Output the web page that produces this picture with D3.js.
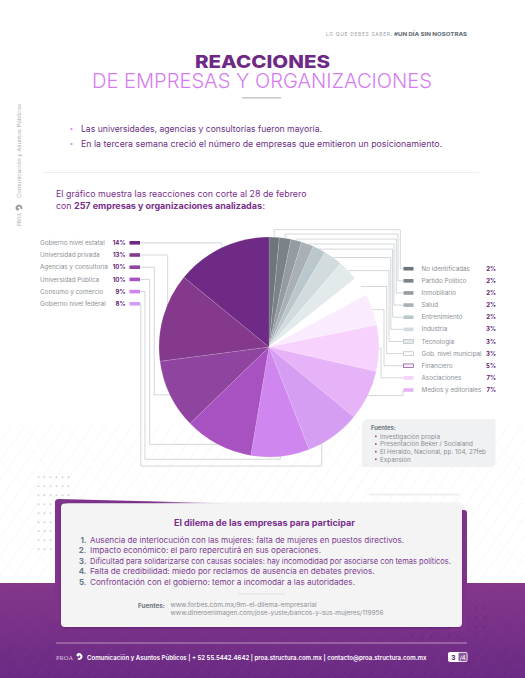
<!DOCTYPE html>
<html lang="es">
<head>
<meta charset="utf-8">
<title>Reacciones de empresas y organizaciones</title>
<script src="https://cdn.jsdelivr.net/npm/d3@7"></script>
<style>
  html, body { margin: 0; padding: 0; background: #fff; }
  svg { display: block; }
  text { font-family: "Inter", "Open Sans", sans-serif; }
</style>
</head>
<body>
<div id="page"></div>
<script>
'use strict';

// data
var leftCategories = ["Gobierno nivel estatal", "Universidad privada", "Agencias y consultoría", "Universidad Pública", "Consumo y comercio", "Gobierno nivel federal"];
var leftLabels = ["14%", "13%", "10%", "10%", "9%", "8%"];
var leftShares = [14.1, 13, 10.2, 10.1, 8.6, 8.1];

var rightCategories = ["No identificadas", "Partido Político", "Inmobiliario", "Salud", "Entrenimiento", "Industria", "Tecnología", "Gob. nivel municipal", "Financiero", "Asociaciones", "Medios y editoriales"];
var rightLabels = ["2%", "2%", "2%", "2%", "2%", "3%", "3%", "3%", "5%", "7%", "7%"];
var rightShares = [1.5, 1.7, 1.6, 1.8, 1.9, 2.8, 3, 2.9, 4.6, 6.8, 7.4];

var bullets = ["Las universidades, agencias y consultorías fueron mayoría.", "En la tercera semana creció el número de empresas que emitieron un posicionamiento."];
var dilemas = [
  "Ausencia de interlocución con las mujeres: falta de mujeres en puestos directivos.",
  "Impacto económico: el paro repercutirá en sus operaciones.",
  "Dificultad para solidarizarse con causas sociales: hay incomodidad por asociarse con temas políticos.",
  "Falta de credibilidad: miedo por reclamos de ausencia en debates previos.",
  "Confrontación con el gobierno: temor a incomodar a las autoridades."
];
var fuentes = ["Investigación propia", "Presentación Beker / Socialand", "El Heraldo, Nacional, pp. 104, 27feb", "Expansión"];
var links = ["www.forbes.com.mx/9m-el-dilema-empresarial", "www.dineroenimagen.com/jose-yuste/bancos-y-sus-mujeres/119956"];

// colours
var leftColors = ["#6e2a84", "#84398d", "#8f44a0", "#a851c0", "#cf86ee", "#d59ef3"];
var rightColors = ["#6e767c", "#7b8389", "#949ba1", "#a9b0b6", "#bac7cd", "#d2dcdf", "#e3eaec", "#ffffff", "#faebff", "#f6d2fc", "#e6b2f8"];
var rightSwatchStroke = {6: "#a9b0b6", 7: "#a9b0b6", 8: "#6e2a84"};

var purple = "#7a2f8c", ink = "#7d3b90", grey = "#8a8f96", dark = "#6b3384";

var width = 525, height = 678;
var svg = d3.select("#page").append("svg").attr("width", width).attr("height", height);
var defs = svg.append("defs");

// helper: text fitted to the width it has in the page
function label(parent, str, x, y, size, fill, opts) {
  opts = opts || {};
  var t = parent.append("text").attr("x", x).attr("y", y)
    .attr("font-size", size).attr("fill", fill).text(str);
  if (opts.weight) t.attr("font-weight", opts.weight);
  if (opts.anchor) t.attr("text-anchor", opts.anchor);
  if (opts.len) t.attr("textLength", opts.len).attr("lengthAdjust", "spacingAndGlyphs");
  return t;
}

// background stripes and band
var hatch = defs.append("pattern").attr("id", "hatch").attr("width", 11).attr("height", 11)
  .attr("patternUnits", "userSpaceOnUse").attr("patternTransform", "rotate(35)");
hatch.append("line").attr("x1", 0).attr("x2", 0).attr("y1", 0).attr("y2", 11).attr("stroke", "#f1f1f4").attr("stroke-width", 1);
var hatchDark = defs.append("pattern").attr("id", "hatchDark").attr("width", 11).attr("height", 11)
  .attr("patternUnits", "userSpaceOnUse").attr("patternTransform", "rotate(35)");
hatchDark.append("line").attr("x1", 0).attr("x2", 0).attr("y1", 0).attr("y2", 11).attr("stroke", "#8c4496").attr("stroke-width", 1);

var bandGrad = defs.append("linearGradient").attr("id", "band").attr("x1", 0).attr("x2", 0).attr("y1", 0).attr("y2", 1);
bandGrad.append("stop").attr("offset", 0).attr("stop-color", "#84378b");
bandGrad.append("stop").attr("offset", 1).attr("stop-color", "#6a2a84");
var wedgeGrad = defs.append("linearGradient").attr("id", "wedge").attr("x1", 0).attr("x2", 1).attr("y1", 0).attr("y2", 0);
wedgeGrad.append("stop").attr("offset", 0).attr("stop-color", "#7f338b");
wedgeGrad.append("stop").attr("offset", 0.55).attr("stop-color", "#7f338b");
wedgeGrad.append("stop").attr("offset", 1).attr("stop-color", "#7f338b").attr("stop-opacity", 0);
var shadow = defs.append("filter").attr("id", "shadow").attr("x", "-5%").attr("y", "-5%").attr("width", "110%").attr("height", "115%");
shadow.append("feDropShadow").attr("dx", 0).attr("dy", 1).attr("stdDeviation", 1.5).attr("flood-color", "#3c1050").attr("flood-opacity", 0.3);

svg.append("rect").attr("x", 0).attr("y", 425).attr("width", width).attr("height", 158).attr("fill", "url(#hatch)");
svg.append("rect").attr("x", 0).attr("y", 583).attr("width", width).attr("height", 95).attr("fill", "url(#band)");
svg.append("rect").attr("x", 0).attr("y", 583).attr("width", width).attr("height", 95).attr("fill", "url(#hatchDark)").attr("opacity", 0.35);

// dot grids
var dotsLeft = svg.append("g").attr("fill", "#d2d4db");
d3.range(9).forEach(function(r) {
  d3.range(6).forEach(function(c) {
    dotsLeft.append("circle").attr("cx", 38.5 + c * 6).attr("cy", 477.3 + r * 9).attr("r", 1);
  });
});
var dotsRight = svg.append("g").attr("fill", "#6b2580");
d3.range(4).forEach(function(r) {
  d3.range(9).forEach(function(c) {
    dotsRight.append("circle").attr("cx", 413 + c * 9).attr("cy", 608 + r * 9.6).attr("r", 0.9);
  });
});

// header
var lead = label(svg, "LO QUE DEBES SABER. ", 326, 35.5, 4.9, "#9a9fa6");
lead.attr("textLength", 66).attr("lengthAdjust", "spacing");
label(svg, "#UN DÍA SIN NOSOTRAS", 394, 35.5, 4.9, "#6f7680", {weight: 800, len: 73});
label(svg, "REACCIONES", 195, 68, 17.8, "#6e2a84", {weight: 800, len: 135});
label(svg, "DE EMPRESAS Y ORGANIZACIONES", 92, 87.5, 20, "#d57df0", {weight: 300, len: 340});
svg.append("rect").attr("x", 242).attr("y", 97).attr("width", 39).attr("height", 1.6).attr("fill", "#c5cace");

var bulletY = d3.scalePoint().domain(d3.range(bullets.length)).range([132, 147]);
var bulletLen = [241, 361];
bullets.forEach(function(b, i) {
  svg.append("circle").attr("cx", 71.5).attr("cy", bulletY(i) - 3).attr("r", 1.1).attr("fill", "#d57df0");
  label(svg, b, 81, bulletY(i), 8.4, dark, {len: bulletLen[i]});
});
svg.append("line").attr("x1", 43).attr("x2", 479).attr("y1", 172.5).attr("y2", 172.5).attr("stroke", "#eeeeef");

label(svg, "El gráfico muestra las reacciones con corte al 28 de febrero", 56, 197, 8.8, purple, {len: 250.5});
label(svg, "con ", 56, 209, 8.8, purple);
label(svg, "257 empresas y organizaciones analizadas", 74, 209, 8.8, purple, {weight: 700, len: 188});
label(svg, ":", 262.5, 209, 8.8, purple);

// small globe mark used in the credits
function globe(parent, x, y, color) {
  var g = parent.append("g").attr("transform", "translate(" + x + "," + y + ")");
  g.append("path").attr("fill", color)
    .attr("d", d3.arc().innerRadius(1.4).outerRadius(3.4).startAngle(-0.6).endAngle(3.6)());
  g.append("circle").attr("cx", -1).attr("cy", -1.4).attr("r", 1.5).attr("fill", color);
}

// side credit
var side = svg.append("g").attr("transform", "translate(21,226) rotate(-90)");
label(side, "PROA", 0, 0, 5.4, "#a6abb0", {len: 13}).style("font-family", "Liberation Serif");
globe(side, 18, -2, "#9aa0a6");
label(side, "Comunicación y Asuntos Públicos", 28, 0, 5.2, "#a6abb0", {len: 94});

// pie
var cx = 269, cy = 347, radius = 110;
var pieOrder = rightCategories.map(function(c, i) {
  return {name: c, share: rightShares[i], color: rightColors[i]};
}).concat(leftCategories.map(function(c, i) {
  return {name: c, share: leftShares[i], color: leftColors[i]};
}).reverse());

var pie = d3.pie().sort(null).value(function(d) { return d.share; });
var arc = d3.arc().innerRadius(0).outerRadius(radius);
var slices = pie(pieOrder);
var sliceOf = {};
slices.forEach(function(s) {
  var a = (s.startAngle + s.endAngle) / 2;
  s.ax = cx + radius * Math.sin(a);
  s.ay = cy - radius * Math.cos(a);
  sliceOf[s.data.name] = s;
});

// legend rows
var leftRow = d3.scalePoint().domain(leftCategories).range([242.8, 303.8]);
var rightRow = d3.scalePoint().domain(rightCategories).range([268.7, 390]);

// where each leader line turns: elbow x, and y of the rail when it runs around the pie
var leftElbows = [null, 167.7, 154.3, 149.7, 145, 140.8];
var leftRails = [null, null, null, null, 459.3, 466];
var leftDrops = [null, null, null, null, null, 321.7];
var rightElbows = [400.3, 398, 396.3, 394, 392.6, 390.8, 389, 386.7, 384, 381, 403];
var rightRails = [229.7, 234, 239, null, null, null, null, null, null, null, null];

function leaderPath(startX, rowY, elbow, rail, drop, s) {
  var ex = elbow === null ? s.ax : elbow;
  var dx = drop === null ? s.ax : drop;
  var pts = [[startX, rowY], [ex, rowY]];
  if (rail === null) {
    pts.push([ex, s.ay], [s.ax, s.ay]);
  } else {
    pts.push([ex, rail], [dx, rail], [dx, s.ay]);
  }
  return d3.line()(pts);
}

var leaders = svg.append("g").attr("fill", "none").attr("stroke", "#c8cdd0").attr("stroke-width", 0.8);
leaders.selectAll("path.left").data(leftCategories).join("path").attr("class", "left")
  .attr("d", function(c, i) { return leaderPath(140, leftRow(c), leftElbows[i], leftRails[i], leftDrops[i], sliceOf[c]); });
leaders.selectAll("path.right").data(rightCategories).join("path").attr("class", "right")
  .attr("d", function(c, i) { return leaderPath(403, rightRow(c), rightElbows[i], rightRails[i], null, sliceOf[c]); });

svg.append("g").attr("transform", "translate(" + cx + "," + cy + ")")
  .selectAll("path").data(slices).join("path")
  .attr("d", arc)
  .attr("fill", function(d) { return d.data.color; })
  .attr("stroke", "#ffffff").attr("stroke-opacity", 0.3).attr("stroke-width", 0.4);

// left legend
var leftLegend = svg.append("g").selectAll("g").data(leftCategories).join("g");
leftLegend.append("text").attr("x", 40).attr("y", function(c) { return leftRow(c) + 2.1; })
  .attr("font-size", 6.3).attr("fill", grey).text(function(c) { return c; });
leftLegend.append("text").attr("x", 125.5).attr("y", function(c) { return leftRow(c) + 2.1; })
  .attr("text-anchor", "end").attr("font-size", 6).attr("font-weight", 700).attr("fill", "#5e2278")
  .text(function(c, i) { return leftLabels[i]; });
leftLegend.append("rect").attr("x", 129.5).attr("width", 10.5).attr("height", 3.6)
  .attr("y", function(c) { return leftRow(c) - 1.8; })
  .attr("fill", function(c, i) { return leftColors[i]; });

// right legend
var rightLegend = svg.append("g").selectAll("g").data(rightCategories).join("g");
rightLegend.append("text").attr("x", 421.5).attr("y", function(c) { return rightRow(c) + 2.1; })
  .attr("font-size", 6.3).attr("fill", grey).text(function(c) { return c; });
rightLegend.append("text").attr("x", 496).attr("y", function(c) { return rightRow(c) + 2.1; })
  .attr("text-anchor", "end").attr("font-size", 6).attr("font-weight", 700).attr("fill", "#5e2278")
  .text(function(c, i) { return rightLabels[i]; });
rightLegend.append("rect").attr("x", 403.5).attr("width", 10).attr("height", 3.6)
  .attr("y", function(c) { return rightRow(c) - 1.8; })
  .attr("fill", function(c, i) { return rightColors[i]; })
  .attr("stroke", function(c, i) { return rightSwatchStroke[i] || "none"; })
  .attr("stroke-width", 0.6);

// sources box, two rounded corners
var box = {x: 362, y: 419, w: 133.5, h: 48, r: 6};
svg.append("path").attr("fill", "#f0f1f2").attr("d",
  "M" + (box.x + box.r) + "," + box.y + "H" + (box.x + box.w) + "V" + (box.y + box.h - box.r) +
  "Q" + (box.x + box.w) + "," + (box.y + box.h) + " " + (box.x + box.w - box.r) + "," + (box.y + box.h) +
  "H" + box.x + "V" + (box.y + box.r) + "Q" + box.x + "," + box.y + " " + (box.x + box.r) + "," + box.y + "Z");
label(svg, "Fuentes:", 371, 430, 5.8, "#6f7680", {weight: 700});
var fuenteY = d3.scalePoint().domain(fuentes).range([438.5, 461.5]);
fuentes.forEach(function(f) {
  svg.append("rect").attr("x", 375).attr("y", fuenteY(f) - 3).attr("width", 1.6).attr("height", 1.6).attr("fill", "#8f44a0");
  label(svg, f, 380, fuenteY(f), 6.3, grey);
});
svg.append("rect").attr("x", 369).attr("y", 493.5).attr("width", 90).attr("height", 2).attr("fill", "#eeeff0");

// dilema card
svg.append("path").attr("fill", "url(#wedge)").attr("d", "M59,499 L235,503.5 L55,503.5 L55,502 Q55,499 59,499Z");
svg.append("rect").attr("x", 55).attr("y", 502).attr("width", 12).attr("height", 118).attr("fill", "#7f338b");
svg.append("rect").attr("x", 450).attr("y", 510).attr("width", 17).attr("height", 121).attr("rx", 3).attr("fill", "#7f338b");
svg.append("rect").attr("x", 61).attr("y", 503.5).attr("width", 401).attr("height", 123.5).attr("rx", 4)
  .attr("fill", "#f4f4f4").attr("filter", "url(#shadow)");

label(svg, "El dilema de las empresas para participar", 174, 525.5, 8.6, purple, {weight: 700, len: 181});

var dilemaY = d3.scalePoint().domain(d3.range(dilemas.length)).range([543, 584.6]);
var dilemaLen = [314, 231, 361, 284.5, 265];
dilemas.forEach(function(d, i) {
  label(svg, (i + 1) + ".", 86.5, dilemaY(i), 8, "#6f7680", {weight: 700, anchor: "end"});
  label(svg, d, 90, dilemaY(i), 7.9, ink, {len: dilemaLen[i]});
});
svg.append("line").attr("x1", 238).attr("x2", 285).attr("y1", 594).attr("y2", 594).attr("stroke", "#dcdcde").attr("stroke-width", 0.8);
label(svg, "Fuentes:", 138, 608, 5.8, "#6f7680", {weight: 700, len: 27});
var linkLen = [146, 213];
links.forEach(function(l, i) {
  label(svg, l, 170.5, 606.5 + i * 8.5, 5.8, "#8d9197", {len: linkLen[i]});
});

// footer
svg.append("line").attr("x1", 56).attr("x2", 467).attr("y1", 643).attr("y2", 643).attr("stroke", "#cdaed4").attr("stroke-width", 0.8);
label(svg, "PROA", 56, 660, 6, "#d9c4de", {len: 17}).style("font-family", "Liberation Serif");
globe(svg, 79, 656.5, "#ffffff");
label(svg, "Comunicación y Asuntos Públicos  |  + 52 55.5442.4642  |  proa.structura.com.mx  |  contacto@proa.structura.com.mx", 87, 660, 6.2, "#ffffff", {weight: 600, len: 339.5});
svg.append("rect").attr("x", 448).attr("y", 652).attr("width", 19.5).attr("height", 10).attr("rx", 2).attr("fill", "#ffffff");
svg.append("rect").attr("x", 458.5).attr("y", 652.8).attr("width", 8.2).attr("height", 8.4).attr("rx", 1).attr("fill", "#8c5a9c");
label(svg, "3", 453.5, 659.5, 6.5, "#5e2278", {weight: 800, anchor: "middle"});
label(svg, "/4", 462.6, 659.5, 5.8, "#ffffff", {anchor: "middle"});
</script>
</body>
</html>
